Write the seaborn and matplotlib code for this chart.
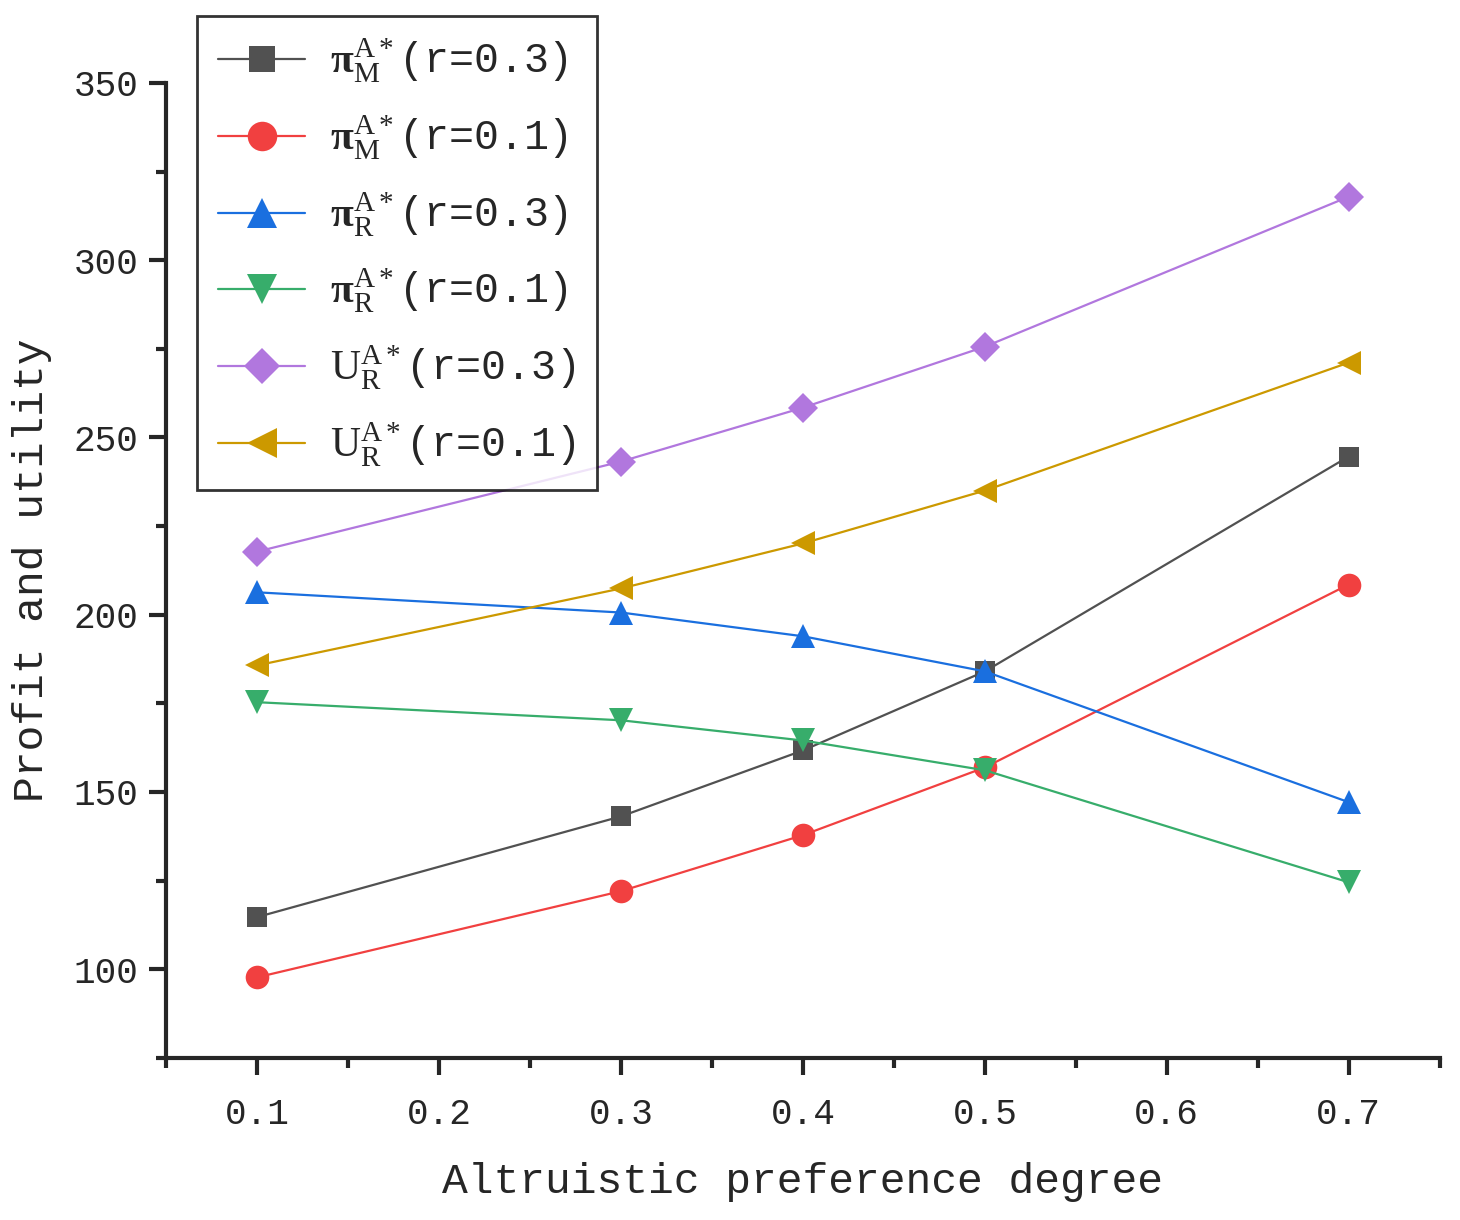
import numpy as np
import pandas as pd
import seaborn as sns
import matplotlib.pyplot as plt

sns.set_style('ticks')
plt.rcParams['font.family'] = ['Liberation Mono', 'DejaVu Sans']
plt.rcParams['mathtext.fontset'] = 'custom'
plt.rcParams['mathtext.rm'] = 'Liberation Serif'
plt.rcParams['mathtext.it'] = 'Liberation Serif:italic'
plt.rcParams['mathtext.bf'] = 'Liberation Serif:bold'

# data
degree = [0.1, 0.3, 0.4, 0.5, 0.7]
pi_m_r03 = [114.7, 143.1, 161.7, 184.0, 244.6]
pi_m_r01 = [97.7, 122.0, 137.8, 156.9, 208.5]
pi_r_r03 = [206.3, 200.6, 193.9, 184.0, 147.1]
pi_r_r01 = [175.3, 170.2, 164.5, 156.1, 124.5]
u_r_r03 = [217.8, 243.2, 258.4, 275.6, 317.9]
u_r_r01 = [185.7, 207.4, 220.1, 235.0, 271.1]

labels = [r'$\mathbf{π}_{\rm M}^{\rm A*}$(r=0.3)',
          r'$\mathbf{π}_{\rm M}^{\rm A*}$(r=0.1)',
          r'$\mathbf{π}_{\rm R}^{\rm A*}$(r=0.3)',
          r'$\mathbf{π}_{\rm R}^{\rm A*}$(r=0.1)',
          r'$\mathrm{U}_{\rm R}^{\rm A*}$(r=0.3)',
          r'$\mathrm{U}_{\rm R}^{\rm A*}$(r=0.1)']
series = [pi_m_r03, pi_m_r01, pi_r_r03, pi_r_r01, u_r_r03, u_r_r01]
colors = ['#515151', '#F14040', '#1A6FDF', '#37AD6B', '#B177DE', '#CC9900']
markers = ['s', 'o', '^', 'v', 'D', '<']
msizes = [15, 17, 17, 17, 15, 17]

fig = plt.figure(figsize=(14.6, 12.2), dpi=100)
ax = fig.add_axes([0.114, 0.133, 0.872, 0.799])

for vals, lab, c, m, ms in zip(series, labels, colors, markers, msizes):
    df = pd.DataFrame({'x': degree, 'y': vals})
    sns.lineplot(data=df, x='x', y='y', ax=ax, color=c, marker=m,
                 markersize=ms, markeredgewidth=0, linewidth=1.6, label=lab)

ax.set_xlim(0.05, 0.75)
ax.set_ylim(75, 350)
ax.set_xticks([0.1, 0.2, 0.3, 0.4, 0.5, 0.6, 0.7])
ax.set_xticks([0.05, 0.15, 0.25, 0.35, 0.45, 0.55, 0.65, 0.75], minor=True)
ax.set_yticks([100, 150, 200, 250, 300, 350])
ax.set_yticks([75, 125, 175, 225, 275, 325], minor=True)
ax.set_xticklabels(['0.1', '0.2', '0.3', '0.4', '0.5', '0.6', '0.7'])

sns.despine(ax=ax)
for s in ['left', 'bottom']:
    ax.spines[s].set_linewidth(3)
ax.tick_params(axis='x', which='major', direction='out', length=12, width=3, labelsize=26, pad=16)
ax.tick_params(axis='y', which='major', direction='out', length=12, width=3, labelsize=26, pad=8)
ax.tick_params(which='minor', direction='out', length=7, width=3)

ax.set_xlabel('Altruistic preference degree', fontsize=31, labelpad=22)
ax.set_ylabel('Profit and utility', fontsize=31, labelpad=16)

leg = ax.legend(loc='upper left', bbox_to_anchor=(0.135, 0.987),
                bbox_transform=fig.transFigure, fontsize=30, markerscale=1.25,
                frameon=True, fancybox=False, edgecolor='black',
                handlelength=2.1, handletextpad=0.6, labelspacing=0.68,
                borderpad=0.5, borderaxespad=0)
leg.get_frame().set_linewidth(2)

fig.savefig('out.png', dpi=100)
